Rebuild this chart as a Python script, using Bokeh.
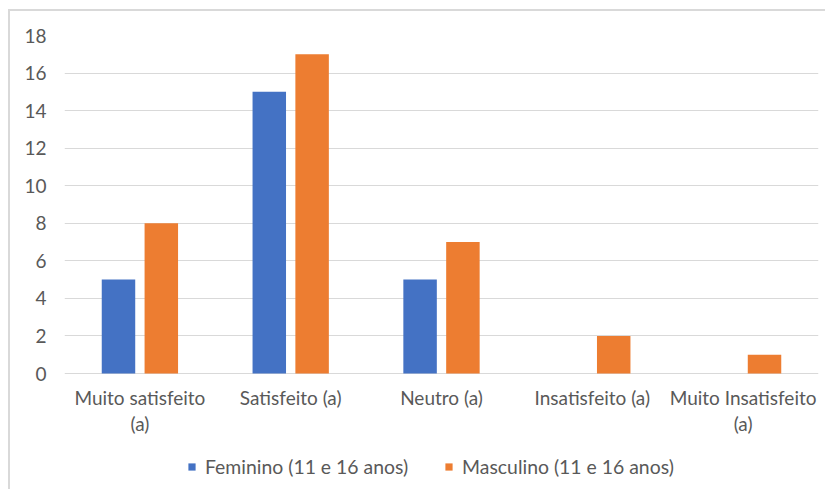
from bokeh.plotting import figure
from bokeh.models import ColumnDataSource, FactorRange, Range1d, Legend, LegendItem
from bokeh.core.properties import value
from bokeh.transform import dodge
from bokeh.embed import file_html
from bokeh.resources import INLINE

categories = ["Muito satisfeito\n(a)", "Satisfeito (a)", "Neutro (a)", "Insatisfeito (a)", "Muito Insatisfeito\n(a)"]
feminino = [5, 15, 5, 0, 0]
masculino = [8, 17, 7, 2, 1]
series_names = ["Feminino (11 e 16 anos)", "Masculino (11 e 16 anos)"]
y_ticks = [0, 2, 4, 6, 8, 10, 12, 14, 16, 18]

FONT = "Lato"
TXT = "#595959"
FS = "19px"

W, H = 825, 489
TOP, LEFT, RIGHT = 35, 64, 7
ZERO_PX = 373  # pixel row of the value 0
px_per_unit = (ZERO_PX - TOP) / 18.0
y_start = -(H - ZERO_PX) / px_per_unit

source = ColumnDataSource(dict(cat=categories, fem=feminino, mas=masculino,
                               zero=[0] * len(categories)))

p = figure(
    x_range=FactorRange(*categories, range_padding=0),
    y_range=Range1d(y_start, 18),
    width=W, height=H,
    output_backend="svg", toolbar_location=None,
    min_border_left=LEFT, min_border_right=RIGHT, min_border_top=TOP, min_border_bottom=0,
    outline_line_color=None,
    border_fill_alpha=0, background_fill_color="#ffffff",
)
p.styles = {
    "background": "linear-gradient(#d9d9d9,#d9d9d9) 9px 9px / 100% 2px no-repeat, "
                  "linear-gradient(#d9d9d9,#d9d9d9) 8px 9px / 2px 100% no-repeat, #ffffff",
}

r1 = p.vbar(x=dodge("cat", -0.142, range=p.x_range), top="fem", width=0.222,
            source=source, fill_color="#4472C4", line_color=None)
r2 = p.vbar(x=dodge("cat", 0.142, range=p.x_range), top="mas", width=0.222,
            source=source, fill_color="#ED7D31", line_color=None)

# category labels under the zero line
p.text(x="cat", y="zero", text="cat", source=source, y_offset=12,
       text_align="center", text_baseline="top",
       text_font=value(FONT), text_font_size=value(FS), text_color=TXT,
       text_line_height=1.15)

p.xaxis.visible = False
p.xgrid.grid_line_color = None
p.ygrid.grid_line_color = "#D9D9D9"
p.ygrid.grid_line_width = 1
p.yaxis.ticker = y_ticks

ax = p.yaxis[0]
ax.axis_line_color = None
ax.major_tick_line_color = None
ax.minor_tick_line_color = None
ax.major_label_text_font = FONT
ax.major_label_text_font_size = FS
ax.major_label_text_color = TXT
ax.major_label_standoff = 12

legend = Legend(
    items=[LegendItem(label=series_names[0], renderers=[r1]),
           LegendItem(label=series_names[1], renderers=[r2])],
    orientation="horizontal",
    location=(123, 11),
    glyph_width=9, glyph_height=9,
    label_text_font=FONT, label_text_font_size="19.4px", label_text_color=TXT,
    label_standoff=9, spacing=36, padding=0, margin=0,
    border_line_color=None, background_fill_alpha=0,
    label_height=20,
)
p.add_layout(legend, "center")

open("out.html", "w").write(file_html(p, INLINE))
